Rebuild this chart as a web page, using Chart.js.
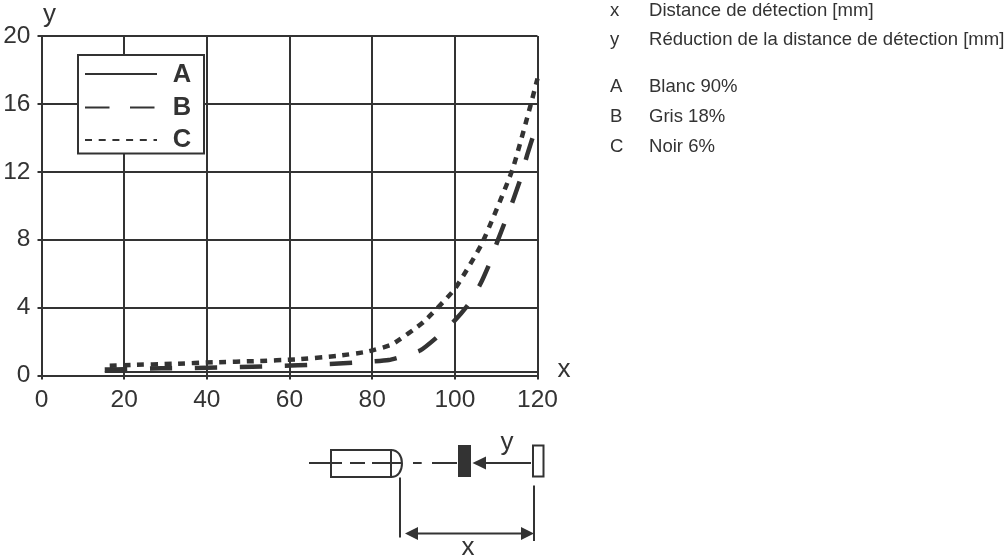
<!DOCTYPE html>
<html><head><meta charset="utf-8">
<script src="https://cdn.jsdelivr.net/npm/chart.js@4"></script>
<style>
html,body{margin:0;padding:0;background:#fff;width:1006px;height:558px;overflow:hidden}
#wrap{position:relative;width:1006px;height:558px}
canvas{position:absolute;left:0;top:0}
.n{position:absolute;font:18.55px "Liberation Sans",Arial,sans-serif;color:#333;white-space:nowrap;line-height:18px}
</style></head><body>
<div id="wrap"><canvas id="c" width="1006" height="558"></canvas>
<div class="n" style="left:610px;top:1px">x</div><div class="n" style="left:649px;top:1px">Distance de détection [mm]</div>
<div class="n" style="left:610px;top:30px">y</div><div class="n" style="left:649px;top:30px">Réduction de la distance de détection [mm]</div>
<div class="n" style="left:610px;top:77px">A</div><div class="n" style="left:649px;top:77px">Blanc 90%</div>
<div class="n" style="left:610px;top:107px">B</div><div class="n" style="left:649px;top:107px">Gris 18%</div>
<div class="n" style="left:610px;top:137px">C</div><div class="n" style="left:649px;top:137px">Noir 6%</div>
</div>
<script>
const seriesNames=["A","B","C"];
const xTicks=[0,20,40,60,80,100,120];
const yTicks=[0,4,8,12,16,20];
const xA=[15.3,40,80,120];
const yA=[0.2,0.2,0.2,0.2];
const xB=[15.3,20,29,40,51,62,73,84,91.6,95.9,100,103.3,106.2,108.4,110.3,112.2,114.2,115.9,117.5,119,120];
const yB=[0.35,0.37,0.42,0.46,0.52,0.6,0.72,0.91,1.47,2.3,3.25,4.2,5.4,6.6,7.9,9.1,10.4,11.6,13,14.15,15];
const xC=[15.3,21.7,32,42,52,61.7,71.7,78.7,84.8,92.4,100,106.6,113.9,118.3,120];
const yC=[0.56,0.62,0.69,0.78,0.85,0.95,1.16,1.4,1.83,3.15,5.1,7.8,12.1,15.9,17.5];
const ink="#333";
const toPts=(xs,ys)=>xs.map((x,i)=>({x,y:ys[i]}));
const styles=[{w:2,d:[],o:0},{w:4.5,d:[22.5,22.5],o:0},{w:4.5,d:[7,6.7],o:8.7}];

const extras={id:"extras",afterDraw(ch){
  const c=ch.ctx;c.save();
  c.strokeStyle=ink;c.fillStyle=ink;c.lineCap="butt";
  const line=(a,b,e,f,w=2,dash=[])=>{c.lineWidth=w;c.setLineDash(dash);c.beginPath();c.moveTo(a,b);c.lineTo(e,f);c.stroke();c.setLineDash([]);};
  const tri=(a,b,e,f,g,h)=>{c.beginPath();c.moveTo(a,b);c.lineTo(e,f);c.lineTo(g,h);c.closePath();c.fill();};
  // axis letters
  c.font='26px "Liberation Sans",Arial,sans-serif';c.textAlign="center";c.textBaseline="alphabetic";
  c.fillText("y",49.5,22);c.fillText("x",564,377);
  // legend box
  c.fillStyle="#fff";c.fillRect(78,55,126,98.5);c.fillStyle=ink;
  c.lineWidth=2;c.strokeRect(78,55,126,98.5);
  c.font='bold 25.5px "Liberation Sans",Arial,sans-serif';c.textBaseline="alphabetic";
  const ly=[74,107.5,140];const lb=[81.5,115,147];const dashes=[[],[24.5,20.5],[7,6.7]];
  seriesNames.forEach((n,i)=>{line(85,ly[i],157,ly[i],2,dashes[i]);c.fillText(n,182,lb[i]);});
  // sensor diagram
  c.lineWidth=2;c.strokeRect(331,450,60,27);
  c.beginPath();c.moveTo(391,450);c.bezierCurveTo(398,450,402,456,402,463.5);c.bezierCurveTo(402,471,398,477,391,477);c.stroke();
  line(309,463,342,463);line(350,463,365,463);line(372,463,402,463);
  line(413,463,421.7,463);line(432,463,457,463);
  c.fillRect(458,445,13,32);
  line(484,463,531,463);tri(472.5,463,486,456.5,486,469.5);
  c.strokeRect(533,445.5,10.5,31);
  line(400,477.5,400,537.5);line(534,485.5,534,541);
  line(415,533.5,524,533.5);tri(405,533.5,418,527,418,540);tri(534,533.5,521,527,521,540);
  c.font='26px "Liberation Sans",Arial,sans-serif';c.textBaseline="alphabetic";
  c.fillText("y",507,450);c.fillText("x",468,555);
  c.restore();
}};

new Chart(document.getElementById("c"),{
  type:"scatter",
  data:{datasets:[
    {label:seriesNames[0],data:toPts(xA,yA),showLine:true,borderColor:ink,borderWidth:styles[0].w,borderDash:styles[0].d,pointRadius:0,clip:false},
    {label:seriesNames[1],data:toPts(xB,yB),showLine:true,borderColor:ink,borderWidth:styles[1].w,borderDash:styles[1].d,borderDashOffset:styles[1].o,pointRadius:0,tension:0.15,clip:false},
    {label:seriesNames[2],data:toPts(xC,yC),showLine:true,borderColor:ink,borderWidth:styles[2].w,borderDash:styles[2].d,borderDashOffset:styles[2].o,pointRadius:0,tension:0.15,clip:false}
  ]},
  options:{
    responsive:false,animation:false,devicePixelRatio:1,
    layout:{padding:{left:0,top:36,right:468.5,bottom:0}},
    plugins:{legend:{display:false},tooltip:{enabled:false}},
    scales:{
      x:{type:"linear",min:0,max:120,afterBuildTicks(s){s.ticks=xTicks.map(v=>({value:v}));},
        afterFit(s){s.height=182.5;},
        grid:{color:ink,lineWidth:2,tickLength:4,drawTicks:true},border:{color:ink,width:2},
        ticks:{color:ink,font:{family:"Liberation Sans",size:24.5},padding:6,maxRotation:0,autoSkip:false}},
      y:{type:"linear",min:0,max:20,afterBuildTicks(s){s.ticks=yTicks.map(v=>({value:v}));},
        afterFit(s){s.width=41.5;},
        grid:{color:ink,lineWidth:2,tickLength:4,drawTicks:true},border:{color:ink,width:2},
        ticks:{color:ink,font:{family:"Liberation Sans",size:24.5},padding:7,autoSkip:false}}
    }
  },
  plugins:[extras]
});
</script>
</body></html>
